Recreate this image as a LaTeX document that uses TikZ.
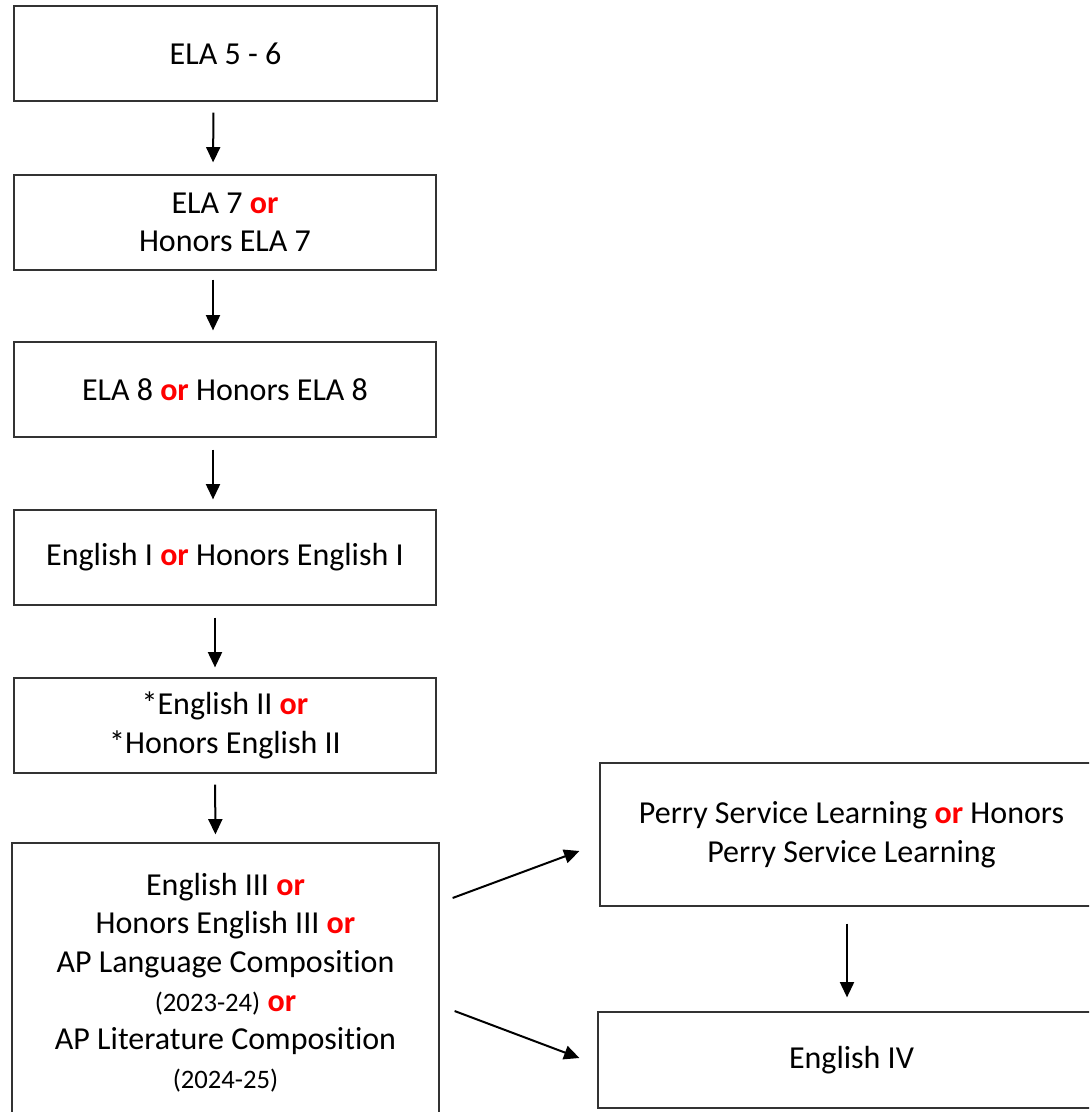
\documentclass[tikz,border=0pt]{standalone}
\usepackage{fontspec}
\setmainfont{Carlito}[Ligatures={NoCommon}]
\usetikzlibrary{arrows.meta}
\definecolor{orred}{RGB}{255,0,0}
\newcommand{\orw}{\textcolor{orred}{\textbf{or}}}
\newcommand{\smalltxt}[1]{{\fontsize{20}{29}\selectfont #1}}
\begin{document}
\begin{tikzpicture}[x=0.75pt,y=-0.75pt,
  box/.style={draw=black!80,line width=0.9pt,rectangle,align=center,inner sep=0pt,
    font=\fontsize{24}{29}\selectfont},
  arr/.style={line width=1.5pt,-{Triangle[length=11.5pt,width=10.5pt]}}]
\useasboundingbox (0,0) rectangle (1089,1112);
\clip (0,0) rectangle (1089,1112);
\node[box,minimum width=317.25pt,minimum height=71.25pt] (b1) at (225.5,53.5) {ELA 5 - 6};
\node[box,minimum width=316.5pt,minimum height=71.25pt] (b2) at (225,222.5) {ELA 7 \orw\\Honors ELA 7};
\node[box,minimum width=316.5pt,minimum height=71.25pt] (b3) at (225,389.5) {ELA 8 \orw{} Honors ELA 8};
\node[box,minimum width=316.5pt,minimum height=71.25pt] (b4) at (225,557.5) {English I \orw{} Honors English I};
\node[box,minimum width=316.5pt,minimum height=71.25pt] (b5) at (225,725.5) {*English II \orw\\*Honors English II};
\node[box,minimum width=320.25pt,minimum height=209.25pt] (b6) at (225.5,982.5)
  {English III \orw\\Honors English III \orw\\AP Language Composition\\\smalltxt{(2023-24)} \orw\\AP Literature Composition\\\smalltxt{(2024-25)}};
\node[box,minimum width=377.25pt,minimum height=107.25pt] (p) at (851.5,834.5)
  {Perry Service Learning \orw{} Honors\\Perry Service Learning};
\node[box,minimum width=380.25pt,minimum height=72pt] (e4) at (851.5,1060) {English IV};

\draw[arr,shorten <=8.25pt,shorten >=9pt] ([xshift=-9pt]b1.south) -- ([xshift=-9pt]b2.north);
\draw[arr,shorten <=6.75pt,shorten >=8.25pt] ([xshift=-9pt]b2.south) -- ([xshift=-9pt]b3.north);
\draw[arr,shorten <=9pt,shorten >=7.5pt] ([xshift=-9pt]b3.south) -- ([xshift=-9pt]b4.north);
\draw[arr,shorten <=9pt,shorten >=7.5pt] ([xshift=-7.5pt]b4.south) -- ([xshift=-7.5pt]b5.north);
\draw[arr,shorten <=8.25pt,shorten >=6pt] ([xshift=-7.5pt]b5.south) -- ([xshift=-7.5pt]b6.north);
\draw[arr,shorten <=12.75pt,shorten >=10.5pt] ([xshift=-3.375pt]p.south) -- ([xshift=-3.375pt]e4.north);
\draw[arr] ([shift={(13,-84.5)}]b6.east) -- ([shift={(-20,16.5)}]p.west);
\draw[arr] ([shift={(15,28.5)}]b6.east) -- ([shift={(-18,-2)}]e4.west);
\end{tikzpicture}
\end{document}
